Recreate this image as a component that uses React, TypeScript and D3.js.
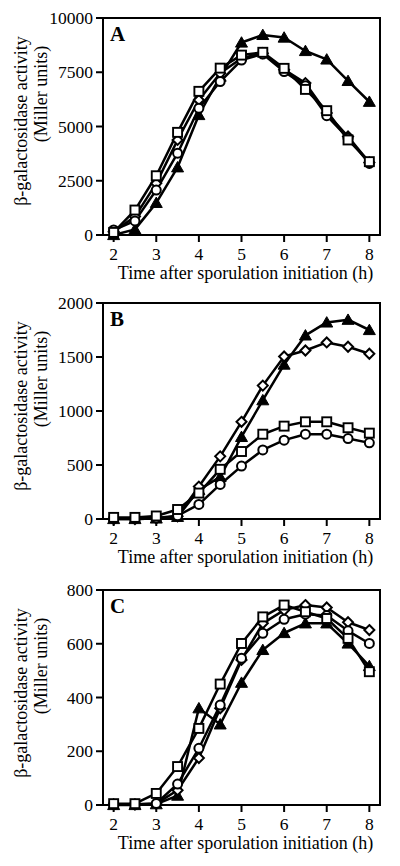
import React from 'react';
import * as d3 from 'd3';

const times = [2, 2.5, 3, 3.5, 4, 4.5, 5, 5.5, 6, 6.5, 7, 7.5, 8];
const xTicks = [2, 3, 4, 5, 6, 7, 8];
const panelLabels = ['A', 'B', 'C'];
const yTicksA = [0, 2500, 5000, 7500, 10000];
const yTicksB = [0, 500, 1000, 1500, 2000];
const yTicksC = [0, 200, 400, 600, 800];

// Panel A
const aTriangle = [0, 260, 1480, 3120, 5530, 7300, 8870, 9220, 9100, 8480, 8090, 7100, 6140];
const aDiamond = [150, 850, 2380, 4380, 6220, 7450, 8150, 8380, 7620, 7000, 5620, 4540, 3340];
const aCircle = [230, 650, 2070, 3770, 5840, 7070, 8060, 8340, 7530, 6880, 5500, 4460, 3300];
const aSquare = [120, 1150, 2730, 4730, 6620, 7690, 8290, 8420, 7680, 6710, 5730, 4380, 3380];

// Panel B
const bTriangle = [0, 0, 5, 20, 270, 390, 760, 1100, 1430, 1700, 1820, 1845, 1750];
const bDiamond = [0, 0, 5, 25, 300, 580, 900, 1235, 1505, 1560, 1635, 1595, 1530];
const bCircle = [5, 5, 10, 30, 135, 320, 490, 640, 730, 785, 785, 745, 705];
const bSquare = [15, 15, 28, 88, 240, 460, 625, 785, 860, 900, 900, 845, 795];

// Panel C
const cTriangle = [0, 0, 3, 35, 360, 300, 455, 577, 640, 676, 676, 601, 517];
const cDiamond = [2, 2, 5, 55, 175, 360, 540, 676, 725, 744, 735, 680, 651];
const cCircle = [3, 3, 6, 78, 211, 372, 546, 639, 691, 710, 705, 648, 601];
const cSquare = [5, 5, 43, 143, 285, 450, 601, 700, 744, 719, 694, 620, 496];

const xTitle = 'Time after sporulation initiation (h)';
const yTitle1 = 'β-galactosidase activity';
const yTitle2 = '(Miller units)';

type Series = { shape: string; values: number[] };

const panels = [
  { label: panelLabels[0], ticks: yTicksA, top: 18, bottom: 235,
    series: [
      { shape: 'triangle', values: aTriangle },
      { shape: 'diamond', values: aDiamond },
      { shape: 'circle', values: aCircle },
      { shape: 'square', values: aSquare },
    ] as Series[] },
  { label: panelLabels[1], ticks: yTicksB, top: 303, bottom: 519,
    series: [
      { shape: 'triangle', values: bTriangle },
      { shape: 'diamond', values: bDiamond },
      { shape: 'circle', values: bCircle },
      { shape: 'square', values: bSquare },
    ] as Series[] },
  { label: panelLabels[2], ticks: yTicksC, top: 590, bottom: 805,
    series: [
      { shape: 'triangle', values: cTriangle },
      { shape: 'diamond', values: cDiamond },
      { shape: 'circle', values: cCircle },
      { shape: 'square', values: cSquare },
    ] as Series[] },
];

const LEFT = 103;
const RIGHT = 380;
const FONT = "'Liberation Serif', 'Times New Roman', serif";

function Marker({ shape, x, y }: { shape: string; x: number; y: number }) {
  if (shape === 'triangle') {
    const p = d3.path();
    p.moveTo(x, y - 5.8);
    p.lineTo(x + 6, y + 4.6);
    p.lineTo(x - 6, y + 4.6);
    p.closePath();
    return <path d={p.toString()} fill="#000" stroke="#000" strokeWidth={1} />;
  }
  if (shape === 'diamond') {
    const p = d3.path();
    p.moveTo(x, y - 5);
    p.lineTo(x + 5, y);
    p.lineTo(x, y + 5);
    p.lineTo(x - 5, y);
    p.closePath();
    return <path d={p.toString()} fill="#fff" stroke="#000" strokeWidth={2} />;
  }
  if (shape === 'circle') {
    return <circle cx={x} cy={y} r={4.5} fill="#fff" stroke="#000" strokeWidth={2} />;
  }
  return <rect x={x - 4.5} y={y - 4.5} width={9} height={9} fill="#fff" stroke="#000" strokeWidth={1.9} />;
}

function Panel({ p }: { p: typeof panels[number] }) {
  const x = d3.scaleLinear().domain([1.75, 8.25]).range([LEFT, RIGHT]);
  const yMax = p.ticks[p.ticks.length - 1];
  const y = d3.scaleLinear().domain([0, yMax]).range([p.bottom, p.top]);
  const line = d3.line<number>().x((_, i) => x(times[i])).y((v) => y(v));
  const top = p.top;
  return (
    <g>
      <text transform={`translate(27,${top + 103}) rotate(-90)`} textAnchor="middle"
        fontFamily={FONT} fontSize={18}>{yTitle1}</text>
      <text transform={`translate(47,${top + 76}) rotate(-90)`} textAnchor="middle"
        fontFamily={FONT} fontSize={18}>{yTitle2}</text>
      {p.ticks.map((t) => (
        <g key={t}>
          <line x1={LEFT - 7} x2={LEFT} y1={y(t)} y2={y(t)} stroke="#000" strokeWidth={2} />
          <text x={LEFT - 10} y={y(t) + 6} textAnchor="end" fontFamily={FONT} fontSize={17.5}>{t}</text>
        </g>
      ))}
      {xTicks.map((t) => (
        <g key={t}>
          <line x1={x(t)} x2={x(t)} y1={p.bottom} y2={p.bottom + 7} stroke="#000" strokeWidth={2} />
          <text x={x(t)} y={p.bottom + 25} textAnchor="middle" fontFamily={FONT} fontSize={17.5}>{t}</text>
        </g>
      ))}
      <text x={(LEFT + RIGHT) / 2 + 4} y={p.bottom + 44} textAnchor="middle" fontFamily={FONT} fontSize={18}>{xTitle}</text>
      <rect x={LEFT} y={p.top} width={RIGHT - LEFT} height={p.bottom - p.top} fill="none" stroke="#000" strokeWidth={2} />
      <text x={LEFT + 7} y={p.top + 22.5} fontFamily={FONT} fontWeight="bold" fontSize={21}>{p.label}</text>
      {p.series.map((s, i) => (
        <path key={'l' + i} d={line(s.values) || ''} fill="none" stroke="#000" strokeWidth={2.5} strokeLinejoin="round" />
      ))}
      {p.series.map((s, i) => (
        <g key={'m' + i}>
          {s.values.map((v, j) => (
            <Marker key={j} shape={s.shape} x={x(times[j])} y={y(v)} />
          ))}
        </g>
      ))}
    </g>
  );
}

export default function App() {
  return (
    <svg width={400} height={866} style={{ position: 'absolute', left: 0, top: 0, background: '#fff' }}>
      <rect x={0} y={0} width={400} height={866} fill="#fff" />
      {panels.map((p) => (
        <Panel key={p.label} p={p} />
      ))}
    </svg>
  );
}
